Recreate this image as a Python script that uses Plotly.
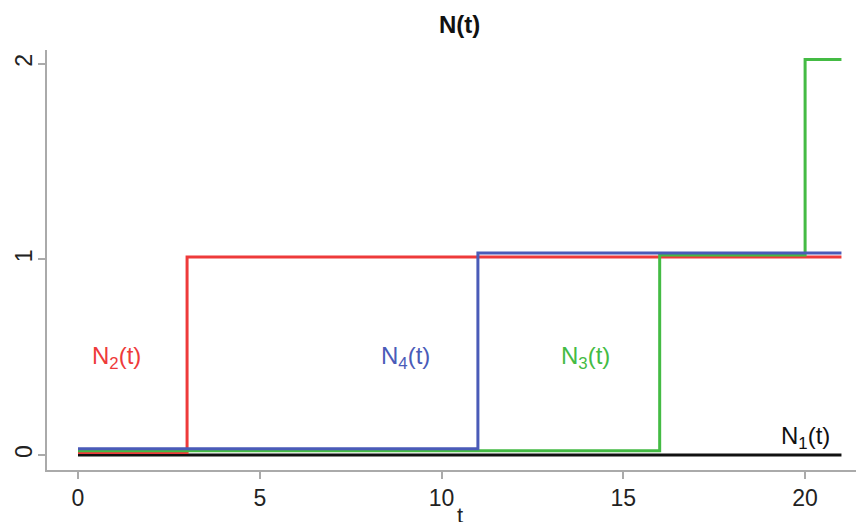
import plotly.graph_objects as go

# Data
t_end = 21
series_names = ["N1", "N2", "N3", "N4"]
jump_times = {
    "N1": [],
    "N2": [3],
    "N3": [16, 20],
    "N4": [11],
}
colors = {"N1": "#111111", "N2": "#EE3A3A", "N3": "#44BB44", "N4": "#4A5BB8"}
# small vertical offsets so overlapping steps stay visible
offsets = {"N1": 0.0, "N2": 0.012, "N3": 0.022, "N4": 0.032}
draw_order = ["N1", "N2", "N3", "N4"]

labels = {
    "N1": ("N<sub>1</sub>(t)", 20.0, 0.09),
    "N2": ("N<sub>2</sub>(t)", 1.05, 0.5),
    "N3": ("N<sub>3</sub>(t)", 13.95, 0.5),
    "N4": ("N<sub>4</sub>(t)", 9.0, 0.5),
}
x_ticks = [0, 5, 10, 15, 20]
y_ticks = [0, 1, 2]

FONT = "Liberation Sans, Arial, sans-serif"

fig = go.Figure()
for name in draw_order:
    jt = jump_times[name]
    xs = [0] + jt + [t_end]
    ys = list(range(len(xs) - 1)) + [len(xs) - 2]
    ys = [v + offsets[name] for v in ys]
    fig.add_trace(go.Scatter(
        x=xs, y=ys, mode="lines", line=dict(shape="hv", color=colors[name], width=3),
        showlegend=False, hoverinfo="skip"))

for name, (txt, lx, ly) in labels.items():
    fig.add_annotation(x=lx, y=ly, text=txt, showarrow=False,
                       font=dict(size=24, color=colors[name], family=FONT))

# x-axis title
fig.add_annotation(x=10.5, xref="x", y=0, yref="paper", yshift=-45, yanchor="middle",
                   text="t", showarrow=False, font=dict(size=22, color="#222222", family=FONT))

axis_common = dict(showline=True, linecolor="#AAAAAA", linewidth=1.5, ticks="outside",
                   tickcolor="#AAAAAA", ticklen=7, tickwidth=1.5, showgrid=False, zeroline=False,
                   automargin=False,
                   tickfont=dict(size=23, color="#222222", family=FONT))

fig.update_layout(
    width=856, height=522,
    margin=dict(l=47, r=0, t=50, b=52, autoexpand=False),
    plot_bgcolor="white", paper_bgcolor="white",
    title=dict(text="<b>N(t)</b>", x=0.537, xanchor="center", y=0.952, yanchor="middle",
               font=dict(size=24, color="#111111", family="Liberation Sans Narrow, " + FONT)),
    xaxis=dict(range=[-0.853, 21.4], tickvals=x_ticks, **axis_common),
    yaxis=dict(range=[-0.077, 2.07], tickvals=y_ticks, tickangle=-90, ticklabelstandoff=-3, **axis_common),
)

fig.write_html("out.html", config={"displayModeBar": False},
               post_script="document.body.style.margin='0';document.body.style.padding='0';")
